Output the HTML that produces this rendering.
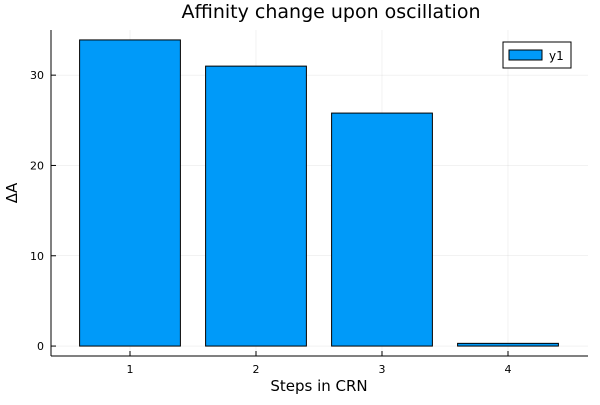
<!DOCTYPE html>
<html><head><meta charset="utf-8"><style>
body{margin:0;background:#fff}
svg{font-family:"DejaVu Sans","Liberation Sans",sans-serif}
</style></head><body>
<svg id="chart" width="600" height="400">
<text x="331" y="18" text-anchor="middle" font-size="19" fill="#000">Affinity change upon oscillation</text>
<g id="grid"></g>
<g id="bars"></g>
<g id="axes"></g>
<text x="319" y="391" text-anchor="middle" font-size="15">Steps in CRN</text>
<text transform="translate(17,193) rotate(-90)" text-anchor="middle" font-size="15">ΔA</text>
<g>
<rect x="503" y="42" width="68" height="26" fill="#fff" stroke="#000" stroke-width="1"/>
<rect x="509" y="50" width="33" height="10" fill="#009af9" stroke="#000" stroke-width="1"/>
<text x="549" y="60" font-size="12">y1</text>
</g>
</svg>
<script>
const categories = [1, 2, 3, 4];
const values = [33.9, 31.0, 25.8, 0.3];
const yTicks = [0, 10, 20, 30];
const xTickLabels = ["1", "2", "3", "4"];
const NS = "http://www.w3.org/2000/svg";
const L = 51, R = 588, T = 30, B = 356;
const xMin = 0.373, xMax = 4.635, yMin = -1.1, yMax = 35;
function sx(v){return L + (v - xMin) / (xMax - xMin) * (R - L);}
function sy(v){return B - (v - yMin) / (yMax - yMin) * (B - T);}
function mk(tag, attrs, parent){const e=document.createElementNS(NS,tag);for(const k in attrs)e.setAttribute(k,attrs[k]);parent.appendChild(e);return e;}
const grid=document.getElementById('grid'), bars=document.getElementById('bars'), axes=document.getElementById('axes');
yTicks.forEach(t=>{
  const g=mk('line',{x1:L,x2:R,y1:sy(t),y2:sy(t),stroke:'#000','stroke-opacity':0.1,'stroke-width':0.5},grid);
  
  
  const tk=mk('line',{x1:L,x2:L+5,y1:sy(t),y2:sy(t),stroke:'#000'},axes);
  
  
  const tx=mk('text',{x:L-7,y:sy(t)+4,'text-anchor':'end','font-size':11},axes);
  tx.textContent=t;
  
  
});
categories.forEach((c,i)=>{
  const g=mk('line',{x1:sx(c),x2:sx(c),y1:T,y2:B,stroke:'#000','stroke-opacity':0.1,'stroke-width':0.5},grid);
  
  
  const x0=sx(c-0.4), x1=sx(c+0.4), y0=sy(0), y1=sy(values[i]);
  const r=mk('rect',{x:x0,y:Math.min(y0,y1),width:x1-x0,height:Math.abs(y0-y1),fill:'#009af9',stroke:'#000','stroke-width':1},bars);
  
  
  const tk=mk('line',{x1:sx(c),x2:sx(c),y1:B,y2:B-5,stroke:'#000'},axes);
  
  
  const tx=mk('text',{x:sx(c),y:B+17,'text-anchor':'middle','font-size':11},axes);
  tx.textContent=xTickLabels[i];
  
  
});
const xa=mk('line',{x1:L,x2:R,y1:B,y2:B,stroke:'#000'},axes);


const ya=mk('line',{x1:L,x2:L,y1:T,y2:B,stroke:'#000'},axes);


</script>
</body></html>
